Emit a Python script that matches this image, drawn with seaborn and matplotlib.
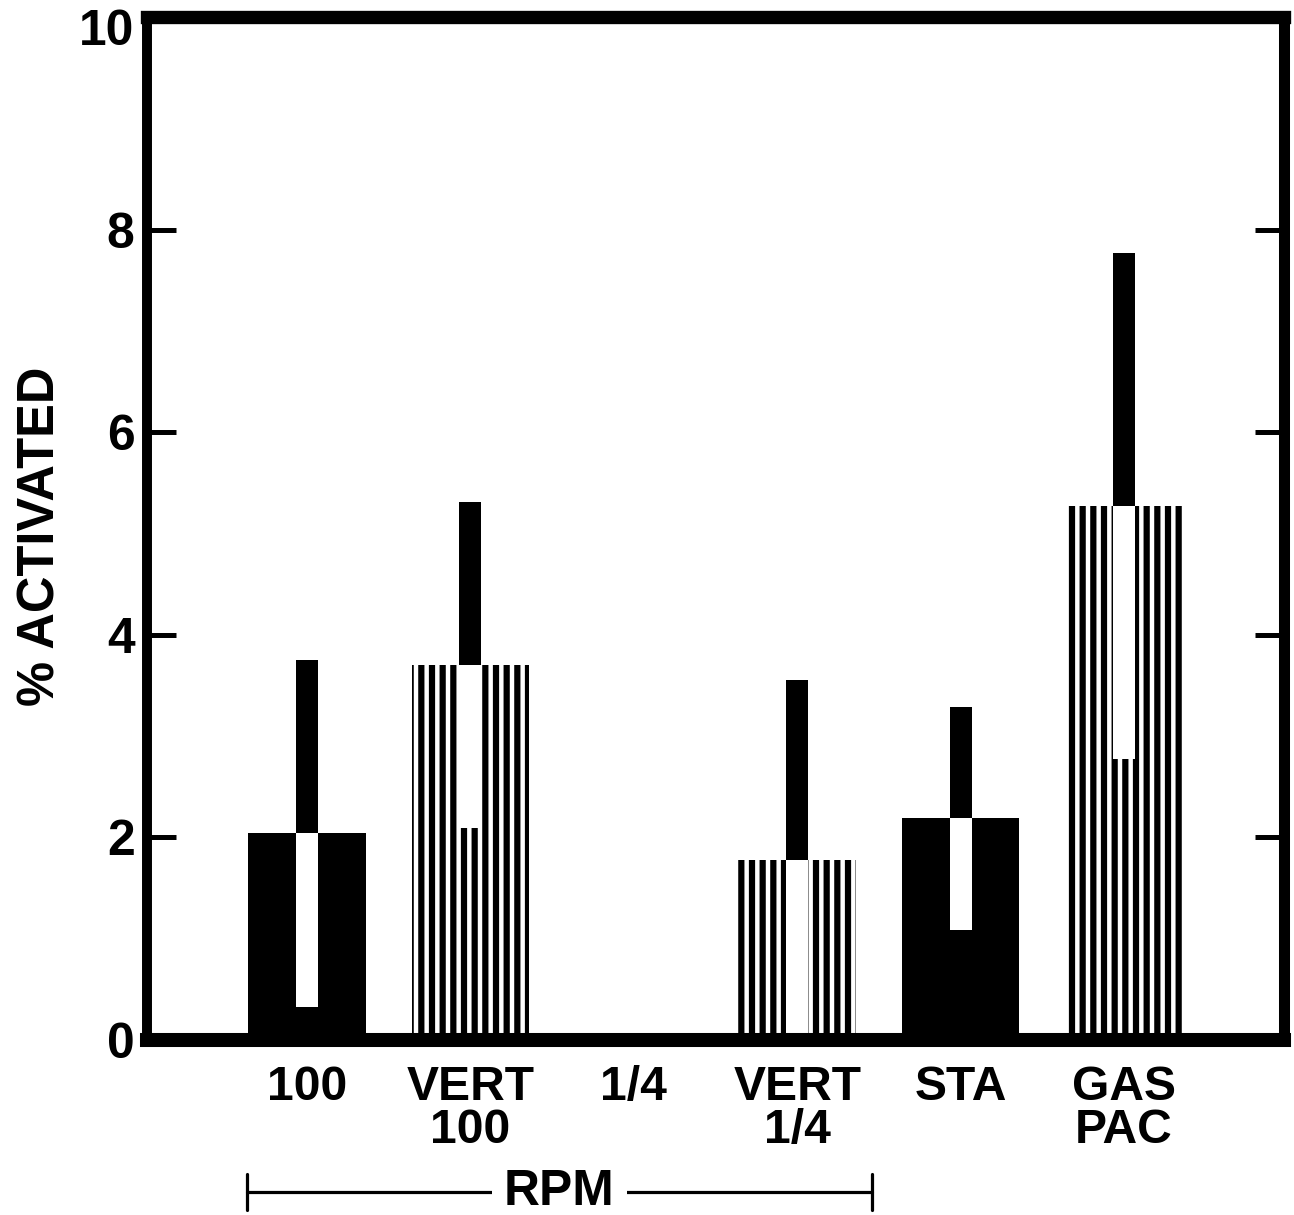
import numpy as np
import pandas as pd
import matplotlib.pyplot as plt
import seaborn as sns

groups = ["100", "VERT\n100", "1/4", "VERT\n1/4", "STA", "GAS\nPAC"]
pct_activated = [2.04, 3.70, 0.0, 1.78, 2.19, 5.27]
pct_error = [1.71, 1.61, 0.0, 1.77, 1.10, 2.50]
hatched = [False, True, False, True, False, True]
y_ticks = [0, 2, 4, 6, 8, 10]

sns.set_theme(style="white")
plt.rcParams["font.family"] = ["Liberation Sans", "DejaVu Sans"]
plt.rcParams["font.weight"] = "bold"
plt.rcParams["hatch.linewidth"] = 3.5
plt.rcParams["hatch.color"] = "black"

DPI = 128
W, H = 1294, 1215
fig = plt.figure(figsize=(W / DPI, H / DPI), dpi=DPI)
ax = fig.add_axes([147 / W, 1 - 1040 / H, (1284 - 147) / W, (1040 - 17) / H])

df = pd.DataFrame({"group": groups, "pct": pct_activated})
sns.barplot(data=df, x="group", y="pct", color="black", saturation=1,
            width=0.72, errorbar=None, linewidth=0, ax=ax)

# striped bars
for patch, h in zip(ax.patches, hatched):
    if h:
        patch.set_facecolor("white")
        patch.set_edgecolor("black")
        patch.set_hatch("||")
        patch.set_linewidth(0)

# error bars: white below the mean, black above
x = np.arange(len(groups))
mean = np.array(pct_activated)
err = np.array(pct_error)
ax.bar(x, err, bottom=mean - err, width=0.135, color="white", linewidth=0, zorder=3)
ax.bar(x, err, bottom=mean, width=0.135, color="black", linewidth=0, zorder=3)

ax.set_xlim(-0.98, 5.98)
ax.set_ylim(0, 10.1)
ax.set_yticks(y_ticks)
ax.set_xlabel("")
ax.set_ylabel("% ACTIVATED", fontsize=28.5, fontweight="bold", color="black")
ax.yaxis.set_label_coords(-0.072, 0.492)

ax.tick_params(axis="y", direction="in", length=16.5, width=2.8, left=True, right=True,
               labelsize=28, pad=7, colors="black")
ax.tick_params(axis="x", length=0, labelsize=27, pad=14, colors="black")
for lab in ax.get_xticklabels():
    lab.set_linespacing(0.95)
    lab.set_fontweight("bold")
for lab in ax.get_yticklabels():
    lab.set_fontweight("bold")
# no tick marks at the top edge
top_tick = ax.yaxis.get_major_ticks()[-1]
top_tick.tick1line.set_visible(False)
top_tick.tick2line.set_visible(False)

for side, lw in {"left": 5.6, "right": 6.2, "top": 7.5, "bottom": 7.9}.items():
    ax.spines[side].set_visible(True)
    ax.spines[side].set_color("black")
    ax.spines[side].set_linewidth(lw)
    ax.spines[side].set_zorder(5)

# RPM bracket under the first four groups
trans = ax.get_xaxis_transform()
bx0, bx1, by = -0.37, 3.46, -0.1486
ax.plot([bx0, bx1], [by, by], color="black", lw=1.8, transform=trans, clip_on=False)
ax.plot([bx0, bx0], [by + 0.018, by - 0.018], color="black", lw=1.8, transform=trans, clip_on=False)
ax.plot([bx1, bx1], [by + 0.018, by - 0.018], color="black", lw=1.8, transform=trans, clip_on=False)
ax.text((bx0 + bx1) / 2, by, "RPM", transform=trans, ha="center", va="center",
        fontsize=28, fontweight="bold", color="black",
        bbox=dict(boxstyle="square,pad=0.25", facecolor="white", edgecolor="none"))

fig.savefig("out.png", dpi=DPI)
